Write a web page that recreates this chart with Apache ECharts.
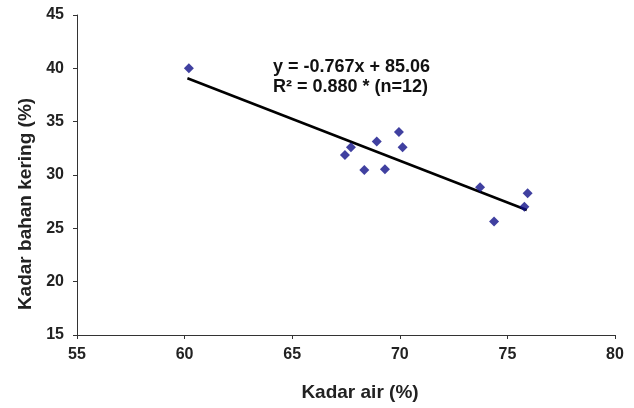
<!DOCTYPE html>
<html>
<head>
<meta charset="utf-8">
<script src="https://cdn.jsdelivr.net/npm/echarts@6/dist/echarts.min.js"></script>
<style>
html,body{margin:0;padding:0;background:#fff;}
#chart{width:634px;height:408px;}
</style>
</head>
<body>
<div id="chart"></div>
<script>
// Observed points (Kadar air %, Kadar bahan kering %)
var kadarAir = [60.2, 67.45, 67.73, 68.93, 69.96, 70.13, 68.35, 69.31, 73.73, 75.94, 75.79, 74.38];
var kadarBahanKering = [40.0, 31.88, 32.6, 33.13, 34.03, 32.6, 30.47, 30.54, 28.85, 28.29, 27.03, 25.63];
// Trendline endpoints
var trendX = [60.13, 75.9];
var trendY = [39.07, 26.72];
var xTicks = [55, 60, 65, 70, 75, 80];
var yTicks = [15, 20, 25, 30, 35, 40, 45];
var xTitle = 'Kadar air (%)';
var yTitle = 'Kadar bahan kering (%)';
var eqLine1 = 'y = -0.767x + 85.06';
var eqLine2 = 'R\u00b2 = 0.880 * (n=12)';

var pts = kadarAir.map(function (x, i) { return [x, kadarBahanKering[i]]; });
var trend = trendX.map(function (x, i) { return [x, trendY[i]]; });
var font = '"Liberation Sans", Arial, sans-serif';

var chart = echarts.init(document.getElementById('chart'), null, {renderer: 'canvas'});
chart.setOption({
  backgroundColor: '#ffffff',
  animation: false,
  grid: {left: 77, top: 15, width: 538, height: 320, containLabel: false},
  xAxis: {
    type: 'value', min: xTicks[0], max: xTicks[xTicks.length - 1], interval: 5,
    axisLine: {show: true, lineStyle: {color: '#333', width: 1}},
    axisTick: {show: true, length: 4, lineStyle: {color: '#333'}},
    axisLabel: {fontFamily: font, fontSize: 16, fontWeight: 'bold', color: '#222', margin: 12},
    splitLine: {show: false}
  },
  yAxis: {
    type: 'value', min: yTicks[0], max: yTicks[yTicks.length - 1], interval: 5,
    axisLine: {show: true, lineStyle: {color: '#333', width: 1}},
    axisTick: {show: true, length: 4, lineStyle: {color: '#333'}},
    axisLabel: {fontFamily: font, fontSize: 16, fontWeight: 'bold', color: '#222', margin: 13},
    splitLine: {show: false}
  },
  series: [
    {
      type: 'line', data: trend, symbol: 'none', silent: true,
      lineStyle: {color: '#000', width: 2.5}, z: 2
    },
    {
      type: 'scatter', data: pts, symbol: 'diamond', symbolSize: 10,
      itemStyle: {color: '#101088'}, z: 3
    }
  ],
  graphic: [
    {
      type: 'text', left: 273, top: 57,
      style: {text: eqLine1 + '\n' + eqLine2, fontFamily: font, fontSize: 18, fontWeight: 'bold',
        fill: '#111', lineHeight: 20}
    },
    {
      type: 'text', x: 360, y: 393,
      style: {text: xTitle, fontFamily: font, fontSize: 19, fontWeight: 'bold', fill: '#222',
        align: 'center', verticalAlign: 'middle'}
    },
    {
      type: 'text', x: 26, y: 204, rotation: Math.PI / 2,
      style: {text: yTitle, fontFamily: font, fontSize: 19, fontWeight: 'bold', fill: '#222',
        align: 'center', verticalAlign: 'middle'}
    }
  ]
});
</script>
</body>
</html>
